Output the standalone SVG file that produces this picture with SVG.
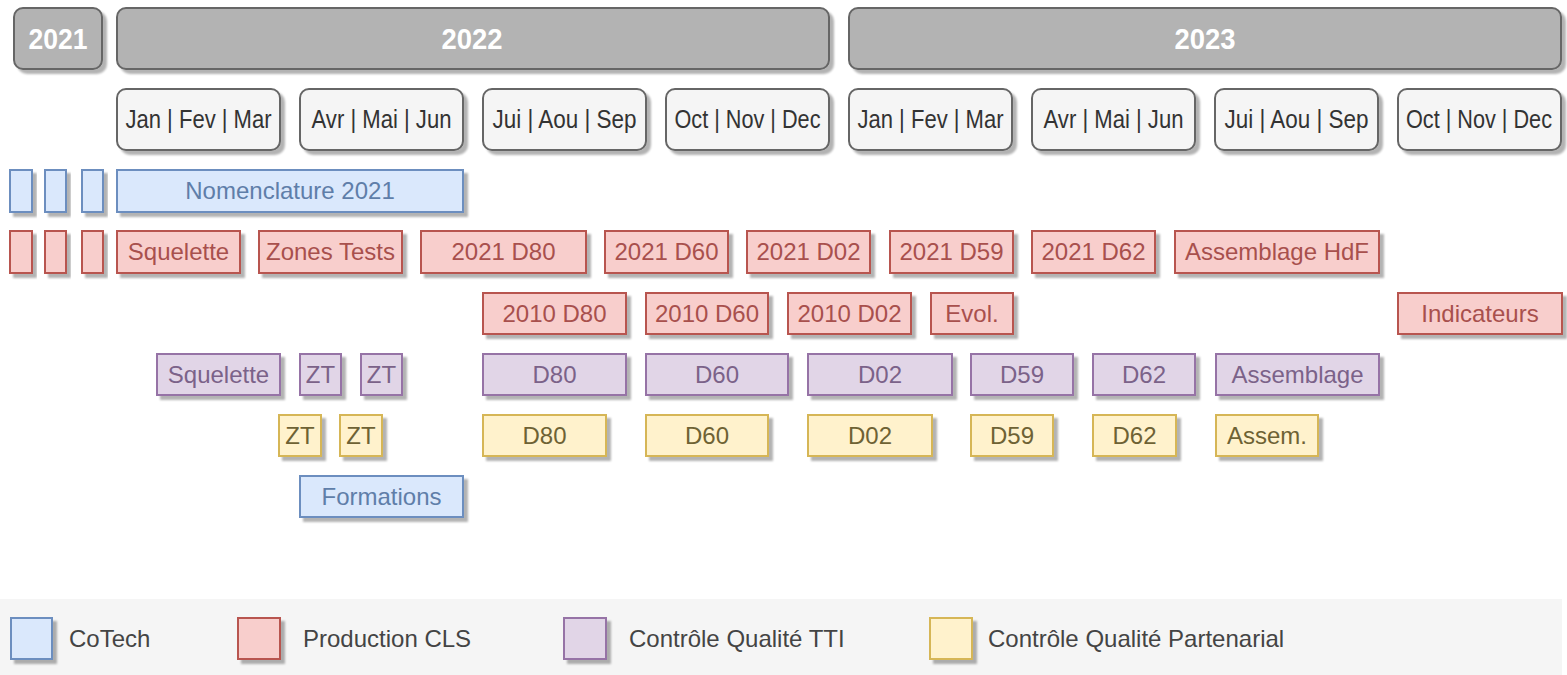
<svg xmlns="http://www.w3.org/2000/svg" width="1567" height="675" viewBox="0 0 1567 675">
<defs>
<filter id="sh" x="-10%" y="-10%" width="130%" height="140%">
<feGaussianBlur in="SourceAlpha" stdDeviation="1.2"/>
<feOffset dx="4" dy="4" result="o"/>
<feComponentTransfer><feFuncA type="linear" slope="0.3"/></feComponentTransfer>
<feMerge><feMergeNode/><feMergeNode in="SourceGraphic"/></feMerge>
</filter>
<style>
text{font-family:"Liberation Sans",Arial,sans-serif;text-anchor:middle}
rect{stroke-width:2;filter:url(#sh)}
.yr rect{fill:#b3b3b3;stroke:#666}
.yr text{fill:#fff;font-weight:bold;font-size:29px}
.mo rect{fill:#f5f5f5;stroke:#666}
.mo text{fill:#333;font-size:25px}
.b rect{fill:#dae8fc;stroke:#6c8ebf}
.b text{fill:#5f7ea9;font-size:24px}
.r rect{fill:#f8cecc;stroke:#b85450}
.r text{fill:#a8504d;font-size:24px}
.p rect{fill:#e1d5e7;stroke:#9673a6}
.p text{fill:#7b6289;font-size:24px}
.y rect{fill:#fff2cc;stroke:#d6b656}
.y text{fill:#6e6234;font-size:24px}
.lg text{fill:#444;font-size:24px;text-anchor:start}
</style>
</defs>
<rect x="0" y="599" width="1562" height="76" fill="#f5f5f5" style="stroke:none;filter:none"/>
<g class="yr">
<g id="y2021"><rect x="14" y="8" width="88" height="61" rx="9"/><text x="58" y="49" textLength="59" lengthAdjust="spacingAndGlyphs">2021</text></g>
<g id="y2022"><rect x="117" y="8" width="712" height="61" rx="9"/><text x="472" y="49" textLength="61" lengthAdjust="spacingAndGlyphs">2022</text></g>
<g id="y2023"><rect x="849" y="8" width="712" height="61" rx="9"/><text x="1205" y="49" textLength="61" lengthAdjust="spacingAndGlyphs">2023</text></g>
</g>
<g class="mo">
<g id="q1_22"><rect x="117" y="89" width="163" height="61" rx="9"/><text x="198.5" y="128" textLength="146" lengthAdjust="spacingAndGlyphs">Jan | Fev | Mar</text></g>
<g id="q2_22"><rect x="300" y="89" width="163" height="61" rx="9"/><text x="381.5" y="128" textLength="140" lengthAdjust="spacingAndGlyphs">Avr | Mai | Jun</text></g>
<g id="q3_22"><rect x="483" y="89" width="163" height="61" rx="9"/><text x="564.5" y="128" textLength="144" lengthAdjust="spacingAndGlyphs">Jui | Aou | Sep</text></g>
<g id="q4_22"><rect x="666" y="89" width="163" height="61" rx="9"/><text x="747.5" y="128" textLength="146" lengthAdjust="spacingAndGlyphs">Oct | Nov | Dec</text></g>
<g id="q1_23"><rect x="849" y="89" width="163" height="61" rx="9"/><text x="930.5" y="128" textLength="146" lengthAdjust="spacingAndGlyphs">Jan | Fev | Mar</text></g>
<g id="q2_23"><rect x="1032" y="89" width="163" height="61" rx="9"/><text x="1113.5" y="128" textLength="140" lengthAdjust="spacingAndGlyphs">Avr | Mai | Jun</text></g>
<g id="q3_23"><rect x="1215" y="89" width="163" height="61" rx="9"/><text x="1296.5" y="128" textLength="144" lengthAdjust="spacingAndGlyphs">Jui | Aou | Sep</text></g>
<g id="q4_23"><rect x="1398" y="89" width="163" height="61" rx="9"/><text x="1479" y="128" textLength="146" lengthAdjust="spacingAndGlyphs">Oct | Nov | Dec</text></g>
</g>
<g class="b">
<g id="b1"><rect x="10" y="170" width="22" height="42"/></g>
<g id="b2"><rect x="45" y="170" width="21" height="42"/></g>
<g id="b3"><rect x="82" y="170" width="21" height="42"/></g>
<g id="nomenclature"><rect x="117" y="170" width="346" height="42"/><text x="290" y="199">Nomenclature 2021</text></g>
<g id="formations"><rect x="300" y="476" width="163" height="41"/><text x="381.5" y="505">Formations</text></g>
</g>
<g class="r">
<g id="r1"><rect x="10" y="231" width="22" height="42"/></g>
<g id="r2"><rect x="45" y="231" width="21" height="42"/></g>
<g id="r3"><rect x="82" y="231" width="21" height="42"/></g>
<g id="r_squelette"><rect x="117" y="231" width="123" height="42"/><text x="178.5" y="260">Squelette</text></g>
<g id="r_zones"><rect x="259" y="231" width="143" height="42"/><text x="330.5" y="260">Zones Tests</text></g>
<g id="r_21d80"><rect x="421" y="231" width="165" height="42"/><text x="503.5" y="260">2021 D80</text></g>
<g id="r_21d60"><rect x="605" y="231" width="123" height="42"/><text x="666.5" y="260">2021 D60</text></g>
<g id="r_21d02"><rect x="747" y="231" width="123" height="42"/><text x="808.5" y="260">2021 D02</text></g>
<g id="r_21d59"><rect x="890" y="231" width="123" height="42"/><text x="951.5" y="260">2021 D59</text></g>
<g id="r_21d62"><rect x="1032" y="231" width="123" height="42"/><text x="1093.5" y="260">2021 D62</text></g>
<g id="r_assHdF"><rect x="1175" y="231" width="204" height="42"/><text x="1277" y="260">Assemblage HdF</text></g>
<g id="r_10d80"><rect x="483" y="293" width="143" height="41"/><text x="554.5" y="322">2010 D80</text></g>
<g id="r_10d60"><rect x="646" y="293" width="122" height="41"/><text x="707" y="322">2010 D60</text></g>
<g id="r_10d02"><rect x="788" y="293" width="123" height="41"/><text x="849.5" y="322">2010 D02</text></g>
<g id="r_evol"><rect x="931" y="293" width="82" height="41"/><text x="972" y="322">Evol.</text></g>
<g id="r_indic"><rect x="1398" y="293" width="164" height="41"/><text x="1480" y="322">Indicateurs</text></g>
</g>
<g class="p">
<g id="p_squelette"><rect x="157" y="354" width="123" height="41"/><text x="218.5" y="383">Squelette</text></g>
<g id="p_zt1"><rect x="300" y="354" width="41" height="41"/><text x="320.5" y="383">ZT</text></g>
<g id="p_zt2"><rect x="361" y="354" width="41" height="41"/><text x="381.5" y="383">ZT</text></g>
<g id="p_d80"><rect x="483" y="354" width="143" height="41"/><text x="554.5" y="383">D80</text></g>
<g id="p_d60"><rect x="646" y="354" width="142" height="41"/><text x="717" y="383">D60</text></g>
<g id="p_d02"><rect x="808" y="354" width="144" height="41"/><text x="880" y="383">D02</text></g>
<g id="p_d59"><rect x="971" y="354" width="102" height="41"/><text x="1022" y="383">D59</text></g>
<g id="p_d62"><rect x="1093" y="354" width="102" height="41"/><text x="1144" y="383">D62</text></g>
<g id="p_ass"><rect x="1216" y="354" width="163" height="41"/><text x="1297.5" y="383">Assemblage</text></g>
</g>
<g class="y">
<g id="y_zt1"><rect x="279" y="415" width="42" height="41"/><text x="300" y="444">ZT</text></g>
<g id="y_zt2"><rect x="340" y="415" width="42" height="41"/><text x="361" y="444">ZT</text></g>
<g id="y_d80"><rect x="483" y="415" width="123" height="41"/><text x="544.5" y="444">D80</text></g>
<g id="y_d60"><rect x="646" y="415" width="122" height="41"/><text x="707" y="444">D60</text></g>
<g id="y_d02"><rect x="808" y="415" width="124" height="41"/><text x="870" y="444">D02</text></g>
<g id="y_d59"><rect x="971" y="415" width="82" height="41"/><text x="1012" y="444">D59</text></g>
<g id="y_d62"><rect x="1093" y="415" width="83" height="41"/><text x="1134.5" y="444">D62</text></g>
<g id="y_ass"><rect x="1216" y="415" width="102" height="41"/><text x="1267" y="444">Assem.</text></g>
</g>
<g id="connectors"/>
<g class="lg" id="legend">
<g id="lg_cotech" class="b"><rect x="11" y="618" width="41" height="41"/><text x="69" y="647" style="fill:#444;text-anchor:start">CoTech</text></g>
<g id="lg_prod" class="r"><rect x="238" y="618" width="42" height="41"/><text x="303" y="647" style="fill:#444;text-anchor:start">Production CLS</text></g>
<g id="lg_tti" class="p"><rect x="564" y="618" width="42" height="41"/><text x="629" y="647" style="fill:#444;text-anchor:start">Contrôle Qualité TTI</text></g>
<g id="lg_part" class="y"><rect x="930" y="618" width="42" height="41"/><text x="988" y="647" style="fill:#444;text-anchor:start">Contrôle Qualité Partenarial</text></g>
</g>
</svg>
